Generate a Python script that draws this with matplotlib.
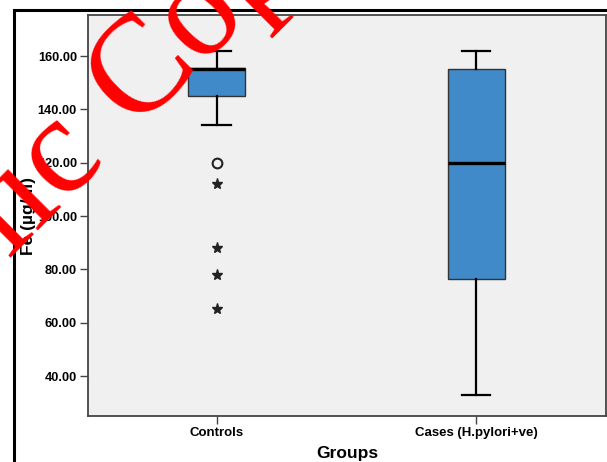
import matplotlib
matplotlib.use("Agg")
import matplotlib.pyplot as plt
from matplotlib.patches import Rectangle

# Group summary values (Fe, µg/dl)
groups = ["Controls", "Cases (H.pylori+ve)"]
medians = [155.0, 120.0]
q1_values = [145.2, 76.3]
q3_values = [155.5, 155.0]
whisker_low = [134.0, 33.0]
whisker_high = [162.0, 162.0]
controls_outliers = [120.0]
controls_extremes = [112.0, 88.0, 78.0, 65.0]
y_ticks = [40, 60, 80, 100, 120, 140, 160]

plt.rcParams["font.family"] = ["Liberation Sans", "DejaVu Sans"]

W, H = 607, 462
fig = plt.figure(figsize=(W / 100, H / 100), dpi=100)
fig.patch.set_facecolor("white")
ax = fig.add_axes([88 / W, 1 - 416 / H, 518 / W, 401 / H])
ax.set_facecolor("#f0f0f0")

positions = [1, 2]
stats = []
for i, name in enumerate(groups):
    stats.append(dict(label=name, med=medians[i], q1=q1_values[i], q3=q3_values[i],
                      whislo=whisker_low[i], whishi=whisker_high[i], fliers=[]))

ax.bxp(stats, positions=positions, widths=0.22, capwidths=0.11, showfliers=False,
       patch_artist=True,
       boxprops=dict(facecolor="#418ac9", edgecolor="#333333", linewidth=1.0),
       medianprops=dict(color="black", linewidth=2.4, solid_capstyle="butt"),
       whiskerprops=dict(color="black", linewidth=1.6),
       capprops=dict(color="black", linewidth=1.6))

ax.plot([positions[0]] * len(controls_outliers), controls_outliers, linestyle="none",
        marker="o", markersize=7, markerfacecolor="none", markeredgecolor="#222222",
        markeredgewidth=1.5)
ax.plot([positions[0]] * len(controls_extremes), controls_extremes, linestyle="none",
        marker="*", markersize=8, color="#222222")

ax.set_xlim(0.505, 2.5)
ax.set_ylim(25.0, 175.4)
ax.set_yticks(y_ticks)
ax.set_yticklabels([f"{v:.2f}" for v in y_ticks], fontsize=9.2, fontweight="bold")
ax.set_xticks(positions)
ax.set_xticklabels(groups, fontsize=9.5, fontweight="bold")
ax.tick_params(axis="both", length=6, width=1.0, color="#444444", pad=2)
for s in ax.spines.values():
    s.set_color("#444444")
    s.set_linewidth(1.3)

ax.set_ylabel("Fe (µg/dl)", fontsize=12.5, fontweight="bold", labelpad=1)
ax.set_xlabel("Groups", fontsize=12.5, fontweight="bold", labelpad=5)

# outer frame around the chart
fig.patches.append(Rectangle((14 / W, -0.05), 1.1, 1 - 9.5 / H + 0.05,
                             transform=fig.transFigure, fill=False,
                             edgecolor="black", linewidth=2.2, clip_on=False))

# red watermark, two words sharing one rotated baseline
wm = dict(fontsize=100, color="red", family=["Liberation Serif", "DejaVu Serif"],
          rotation=45, rotation_mode="anchor", va="baseline", zorder=100)
fig.text(134 / W, 1 - 129 / H, "Copy", ha="left", **wm)
fig.text(106 / W, 1 - 158 / H, "Public", ha="right", **wm)

fig.savefig("out.png", dpi=100)
